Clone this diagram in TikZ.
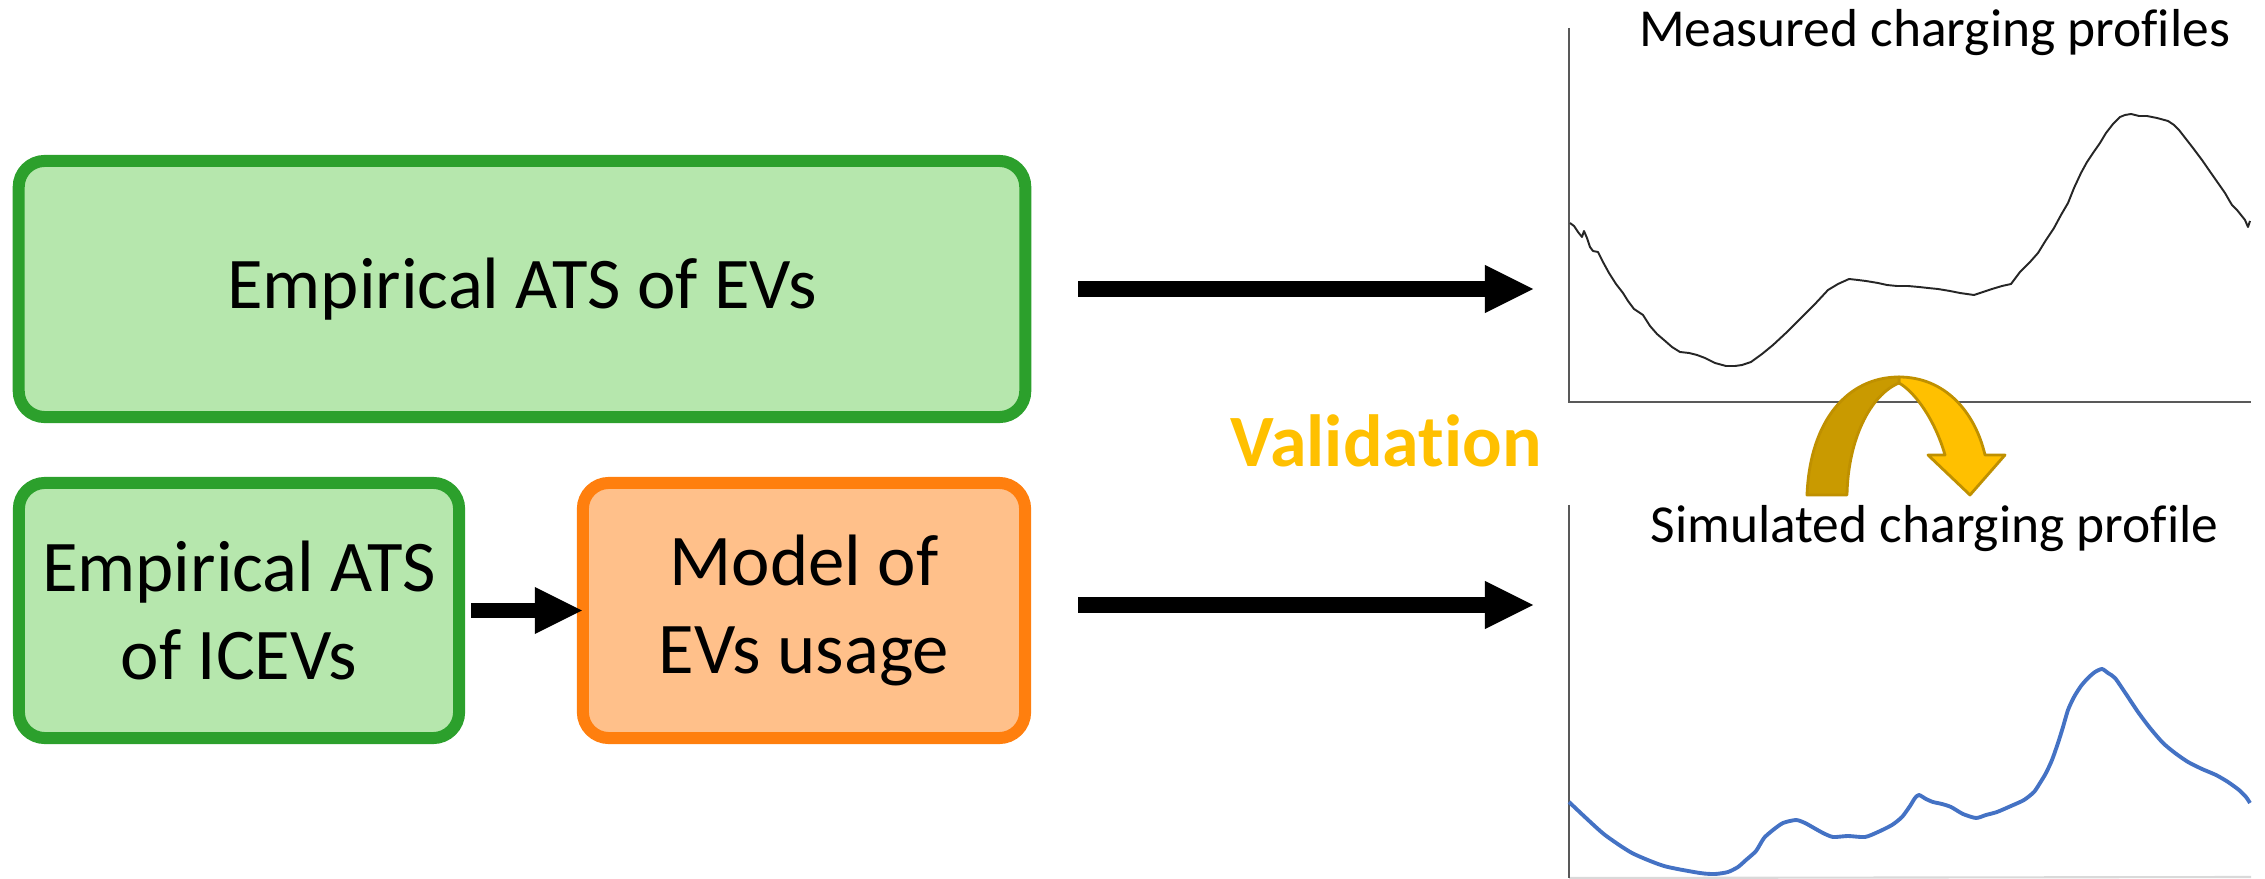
\documentclass[tikz,border=0pt]{standalone}
\usepackage{fontspec}
\setmainfont[Ligatures=NoCommon]{Carlito}
\usetikzlibrary{arrows.meta,calc}

\definecolor{boxgreen}{HTML}{2CA02C}
\definecolor{fillgreen}{HTML}{B6E7AD}
\definecolor{boxorange}{HTML}{FF7F0E}
\definecolor{fillorange}{HTML}{FFC08A}
\definecolor{gold}{HTML}{FFC000}
\definecolor{darkgold}{HTML}{C99A00}
\definecolor{goldline}{HTML}{BF9000}
\definecolor{axisgray}{HTML}{595959}
\definecolor{lightaxis}{HTML}{D9D9D9}
\definecolor{simblue}{HTML}{4472C4}
\definecolor{curveblack}{HTML}{262626}

\begin{document}
\begin{tikzpicture}[x=0.01cm, y=-0.01cm,
  box/.style={rounded corners=0.26cm, line width=0.12cm, inner sep=0pt,
    font=\fontsize{20.7}{24.75}\selectfont, align=center},
  greenbox/.style={box, draw=boxgreen, fill=fillgreen},
  orangebox/.style={box, draw=boxorange, fill=fillorange},
  fatarrow/.style={draw=black, line width=0.16cm,
    -{Triangle[length=0.48cm, width=0.48cm, line width=0pt]}},
  slimarrow/.style={draw=black, line width=0.15cm,
    -{Triangle[length=0.47cm, width=0.47cm, line width=0pt]}},
  charttitle/.style={anchor=base, inner sep=0pt, font=\fontsize{15.2}{18}\selectfont},
  axis/.style={draw=axisgray, line width=0.7pt},
  ribbon/.style={draw=goldline, line width=0.8pt, line join=round}
]
\useasboundingbox (0,0) rectangle (2265,879);

% input boxes
\node[greenbox, minimum width=10.06cm, minimum height=2.56cm] (emp) at (522,289)
  {Empirical ATS of EVs};
\node[greenbox, minimum width=4.40cm, minimum height=2.55cm] (ice) at (239,610.5)
  {Empirical ATS\\of ICEVs};
\node[orangebox, minimum width=4.42cm, minimum height=2.55cm] (model) at (804,610.5)
  {Model of\\EVs usage};

\draw[slimarrow] ([xshift=0.06cm]ice.east) -- ([xshift=0.05cm]model.west);

% measured profile chart
\coordinate (m0) at (1569,28);
\coordinate (mo) at (1569,402);
\coordinate (mx) at (2251,402);
\draw[axis] (m0) -- (mo) -- (mx);
\node[charttitle] (mtitle) at (1934.5,47) {Measured charging profiles};
\draw[curveblack, line width=0.55pt, line join=round] plot coordinates {
  (1570,223) (1574,226) (1578,232) (1582,237) (1584,231) (1587,238) (1590,247)
  (1593,251) (1598,252) (1603,262) (1609,273) (1616,284) (1623,293) (1628,301)
  (1634,309) (1643,315) (1650,326) (1657,334) (1664,340) (1672,347) (1680,352)
  (1689,353) (1697,355) (1705,358) (1715,363) (1726,366) (1735,366) (1742,365)
  (1751,362) (1762,354) (1773,345) (1787,332) (1801,318) (1815,304) (1828,290)
  (1838,284) (1849,279) (1858,280) (1866,281) (1878,283) (1887,285) (1897,286)
  (1908,286) (1919,287) (1928,288) (1938,289) (1950,291) (1960,293) (1967,294)
  (1974,295) (1983,292) (1992,289) (2002,286) (2011,284) (2020,272) (2030,262)
  (2038,253) (2046,240) (2054,228) (2061,215) (2068,203) (2074,188) (2081,173)
  (2087,162) (2093,153) (2100,143) (2106,133) (2113,124) (2120,117) (2125,115)
  (2131,114) (2139,116) (2147,116) (2157,118) (2168,121) (2174,125) (2179,130)
  (2186,139) (2193,148) (2202,160) (2211,173) (2218,183) (2225,193) (2229,200)
  (2232,205) (2237,210) (2241,215) (2245,220) (2248,227) (2250,221)};

% simulated profile chart
\coordinate (s0) at (1569,505);
\coordinate (so) at (1569,878);
\coordinate (sx) at (2251,877);
\draw[draw=lightaxis, line width=0.6pt] (so) -- (sx);
\draw[axis] (s0) -- (so);
\node[charttitle] (stitle) at (1934.5,542) {Simulated charging profile};
\draw[simblue, line width=1.1pt, line join=round] plot[smooth, tension=0.4] coordinates {
  (1569,802) (1586,818) (1605,835) (1632,853) (1664,866) (1700,873) (1715,874)
  (1728,872) (1738,867) (1746,860) (1756,851) (1764,838) (1773,830) (1783,823)
  (1796,820) (1805,823) (1814,828) (1823,833) (1833,837) (1848,836) (1865,837)
  (1878,832) (1892,825) (1902,817) (1910,806) (1915,798) (1919,795) (1926,799)
  (1933,802) (1942,804) (1951,807) (1963,814) (1976,818) (1986,815) (1997,812)
  (2011,806) (2024,800) (2034,792) (2040,783) (2046,773) (2052,760) (2058,743)
  (2063,727) (2068,710) (2074,697) (2081,686) (2088,678) (2095,672) (2102,669)
  (2108,673) (2115,678) (2126,694) (2138,712) (2150,728) (2163,743) (2175,753)
  (2188,762) (2202,769) (2216,775) (2228,782) (2239,790) (2246,797) (2250,803)};

% big arrows towards the charts
\coordinate (a1s) at (1078,289);
\coordinate (a1e) at (1533,289);
\coordinate (a2s) at (1078,605);
\coordinate (a2e) at (1533,605);
\draw[fatarrow] (a1s) -- (a1e);
\draw[fatarrow] (a2s) -- (a2e);

% validation label and curved ribbon arrow
\node[anchor=base, inner sep=0pt, text=gold, font=\fontsize{21}{25}\selectfont\bfseries]
  (valid) at (1386,467) {Validation};
\draw[ribbon, fill=gold] (1899,377)
  .. controls (1945,377) and (1975,412) .. (1985,455)
  -- (2005,455) -- (1970,495) -- (1928,455) -- (1945,455)
  .. controls (1935,420) and (1915,392) .. (1899,383) -- cycle;
\draw[ribbon, fill=darkgold] (1807,495) .. controls (1810,420) and (1848,377) .. (1899,377)
  -- (1899,383)
  .. controls (1870,395) and (1848,440) .. (1847,495) -- cycle;
\end{tikzpicture}
\end{document}
